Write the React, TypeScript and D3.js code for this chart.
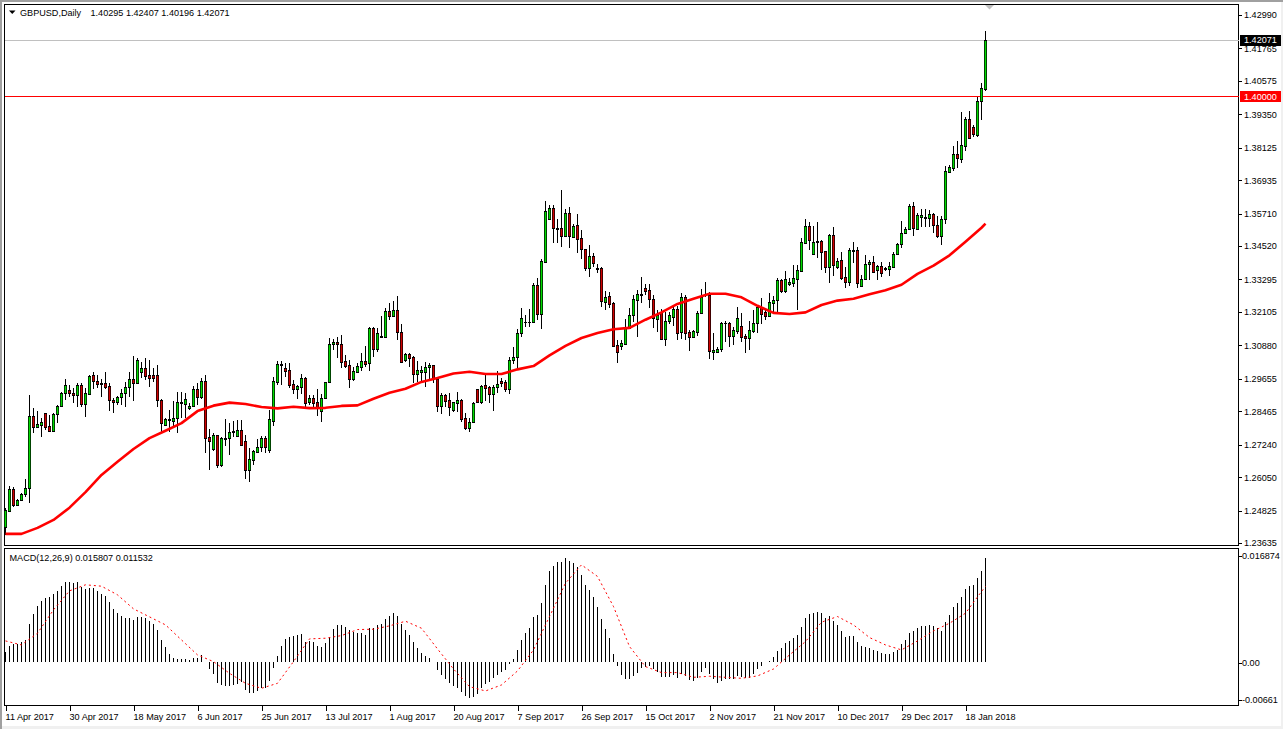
import React, { useRef, useEffect } from 'react';
import * as d3 from 'd3';

// daily bars, 11 Apr 2017 to the last bar of Jan 2018
const opens = [
  1.2421,1.2482,1.2561,1.2503,1.2522,1.2542,1.2564,1.2829,1.2790,1.2797,1.2839,1.2791,1.2775,1.2835,1.2864,1.2914,1.2923,1.2912,1.2905,1.2941,
  1.2874,1.2911,1.2981,1.2956,1.2947,1.2949,1.2938,1.2886,1.2879,1.2897,1.2912,1.2934,1.2963,1.2951,1.2990,1.3004,1.2978,1.2978,1.2978,1.2886,
  1.2797,1.2813,1.2812,1.2820,1.2875,1.2874,1.2857,1.2864,1.2927,1.2897,1.2956,1.2751,1.2707,1.2758,1.2648,1.2746,1.2747,1.2774,1.2757,1.2778,
  1.2736,1.2630,1.2669,1.2698,1.2716,1.2747,1.2704,1.2812,1.2955,1.3017,1.3004,1.2998,1.2945,1.2929,1.2936,1.2967,1.2880,1.2894,1.2879,1.2849,
  1.2894,1.2952,1.3092,1.3099,1.3092,1.3031,1.3015,1.2966,1.2992,1.3010,1.3029,1.3022,1.3150,1.3076,1.3122,1.3120,1.3213,1.3197,1.3216,1.3136,
  1.3034,1.3055,1.3044,1.2984,1.2990,1.2990,1.3010,1.3015,1.2965,1.2866,1.2905,1.2886,1.2851,1.2878,1.2886,1.2820,1.2786,1.2808,1.2927,1.2881,
  1.2941,1.2935,1.2910,1.2934,1.2956,1.2952,1.2929,1.3033,1.3044,1.3132,1.3174,1.3175,1.3175,1.3308,1.3202,1.3395,1.3553,1.3590,1.3517,1.3517,
  1.3490,1.3575,1.3484,1.3528,1.3480,1.3440,1.3373,1.3414,1.3370,1.3370,1.3248,1.3268,1.3242,1.3088,1.3087,1.3094,1.3153,1.3198,1.3255,1.3274,
  1.3298,1.3290,1.3257,1.3186,1.3210,1.3110,1.3178,1.3193,1.3221,1.3136,1.3264,1.3136,1.3120,1.3138,1.3205,1.3274,1.3272,1.3065,1.3065,1.3073,
  1.3169,1.3169,1.3123,1.3142,1.3159,1.3121,1.3116,1.3142,1.3169,1.3227,1.3209,1.3197,1.3244,1.3253,1.3326,1.3288,1.3313,1.3318,1.3332,1.3360,
  1.3465,1.3524,1.3424,1.3466,1.3469,1.3433,1.3376,1.3491,1.3375,1.3400,1.3337,1.3321,1.3435,1.3436,1.3307,1.3330,1.3385,1.3392,1.3363,1.3378,
  1.3370,1.3369,1.3375,1.3422,1.3458,1.3499,1.3513,1.3598,1.3515,1.3560,1.3557,1.3556,1.3568,1.3531,1.3489,1.3550,1.3723,1.3739,1.3789,1.3770,
  1.3819,1.3918,1.3888,1.3859,1.3983,1.40295,
];
const highs = [
  1.2490,1.2574,1.2570,1.2523,1.2548,1.2597,1.2906,1.2857,1.2848,1.2820,1.2841,1.2833,1.2841,1.2869,1.2918,1.2963,1.2942,1.2930,1.2949,1.2949,
  1.2930,1.2981,1.2989,1.2979,1.2963,1.2989,1.2951,1.2894,1.2902,1.2927,1.2955,1.2989,1.3049,1.3040,1.3026,1.3040,1.3034,1.3004,1.3016,1.2890,
  1.2823,1.2851,1.2885,1.2918,1.2918,1.2912,1.2875,1.2939,1.2949,1.2967,1.2979,1.2780,1.2768,1.2759,1.2753,1.2817,1.2804,1.2811,1.2814,1.2814,
  1.2759,1.2710,1.2704,1.2743,1.2756,1.2756,1.2851,1.2973,1.3031,1.3031,1.3022,1.3022,1.2961,1.2943,1.2982,1.2971,1.2906,1.2906,1.2927,1.2910,
  1.2955,1.3114,1.3110,1.3120,1.3126,1.3053,1.3034,1.3007,1.3022,1.3059,1.3085,1.3156,1.3156,1.3150,1.3195,1.3224,1.3242,1.3252,1.3269,1.3166,
  1.3059,1.3059,1.3049,1.3031,1.3012,1.3028,1.3022,1.3016,1.2973,1.2912,1.2910,1.2914,1.2881,1.2918,1.2890,1.2839,1.2820,1.2881,1.2927,1.2943,
  1.2982,1.2939,1.2943,1.2995,1.2970,1.2961,1.3044,1.3081,1.3147,1.3224,1.3199,1.3220,1.3315,1.3334,1.3403,1.3617,1.3602,1.3602,1.3550,1.3657,
  1.3588,1.3594,1.3533,1.3569,1.3511,1.3443,1.3456,1.3425,1.3388,1.3374,1.3287,1.3285,1.3248,1.3107,1.3107,1.3183,1.3224,1.3272,1.3291,1.3337,
  1.3312,1.3312,1.3272,1.3217,1.3220,1.3211,1.3211,1.3230,1.3232,1.3279,1.3272,1.3144,1.3144,1.3215,1.3293,1.3319,1.3285,1.3132,1.3081,1.3175,
  1.3177,1.3175,1.3156,1.3230,1.3205,1.3129,1.3178,1.3217,1.3236,1.3260,1.3217,1.3279,1.3269,1.3334,1.3330,1.3360,1.3334,1.3382,1.3382,1.3480,
  1.3551,1.3539,1.3525,1.3539,1.3474,1.3435,1.3496,1.3521,1.3407,1.3431,1.3376,1.3444,1.3466,1.3450,1.3346,1.3419,1.3401,1.3417,1.3382,1.3395,
  1.3376,1.3395,1.3429,1.3462,1.3544,1.3521,1.3605,1.3612,1.3572,1.3588,1.3588,1.3584,1.3572,1.3562,1.3562,1.3745,1.3749,1.3819,1.3837,1.3945,
  1.3924,1.3947,1.3896,1.4000,1.4048,1.42407,
];
const lows = [
  1.2393,1.2478,1.2497,1.2500,1.2518,1.2531,1.2511,1.2768,1.2784,1.2753,1.2778,1.2771,1.2774,1.2802,1.2863,1.2887,1.2897,1.2875,1.2863,1.2861,
  1.2826,1.2908,1.2927,1.2930,1.2897,1.2927,1.2848,1.2841,1.2869,1.2869,1.2863,1.2897,1.2885,1.2949,1.2967,1.2961,1.2937,1.2955,1.2863,1.2771,
  1.2792,1.2769,1.2792,1.2768,1.2820,1.2823,1.2851,1.2861,1.2869,1.2890,1.2692,1.2631,1.2701,1.2637,1.2643,1.2719,1.2686,1.2753,1.2753,1.2719,
  1.2597,1.2588,1.2649,1.2692,1.2698,1.2692,1.2692,1.2794,1.2943,1.2943,1.2973,1.2930,1.2910,1.2891,1.2910,1.2861,1.2869,1.2857,1.2830,1.2808,
  1.2890,1.2949,1.3071,1.3043,1.3004,1.3004,1.2933,1.2957,1.2985,1.2995,1.3007,1.2995,1.3046,1.3065,1.3117,1.3117,1.3181,1.3191,1.3107,1.3022,
  1.3028,1.3010,1.2949,1.2955,1.2951,1.2936,1.2963,1.2951,1.2845,1.2836,1.2861,1.2829,1.2845,1.2845,1.2808,1.2778,1.2772,1.2805,1.2875,1.2873,
  1.2885,1.2875,1.2849,1.2914,1.2936,1.2918,1.2908,1.3018,1.3001,1.3120,1.3156,1.3156,1.3169,1.3181,1.3147,1.3391,1.3552,1.3464,1.3464,1.3450,
  1.3489,1.3446,1.3480,1.3428,1.3404,1.3362,1.3340,1.3376,1.3352,1.3227,1.3217,1.3224,1.3085,1.3024,1.3071,1.3093,1.3150,1.3175,1.3120,1.3242,
  1.3272,1.3224,1.3150,1.3138,1.3107,1.3087,1.3166,1.3159,1.3107,1.3110,1.3107,1.3067,1.3114,1.3122,1.3202,1.3264,1.3038,1.3034,1.3059,1.3065,
  1.3101,1.3083,1.3089,1.3128,1.3101,1.3061,1.3071,1.3134,1.3134,1.3166,1.3181,1.3196,1.3211,1.3208,1.3281,1.3279,1.3307,1.3303,1.3217,1.3358,
  1.3462,1.3438,1.3423,1.3409,1.3364,1.3354,1.3318,1.3343,1.3369,1.3328,1.3299,1.3306,1.3391,1.3299,1.3303,1.3328,1.3328,1.3352,1.3328,1.3340,
  1.3360,1.3342,1.3372,1.3419,1.3444,1.3496,1.3511,1.3490,1.3511,1.3523,1.3521,1.3521,1.3501,1.3480,1.3456,1.3533,1.3719,1.3727,1.3739,1.3755,
  1.3802,1.3847,1.3851,1.3853,1.3914,1.40196,
];
const closes = [
  1.2484,1.2561,1.2503,1.2520,1.2542,1.2564,1.2829,1.2790,1.2800,1.2806,1.2790,1.2775,1.2835,1.2864,1.2915,1.2941,1.2912,1.2905,1.2941,1.2874,
  1.2912,1.2974,1.2956,1.2947,1.2949,1.2937,1.2886,1.2879,1.2897,1.2912,1.2935,1.2963,1.2951,1.3033,1.3004,1.2977,1.2970,1.2970,1.2886,1.2802,
  1.2817,1.2817,1.2820,1.2879,1.2879,1.2890,1.2864,1.2927,1.2900,1.2956,1.2750,1.2739,1.2758,1.2648,1.2747,1.2747,1.2769,1.2769,1.2778,1.2721,
  1.2632,1.2670,1.2699,1.2714,1.2747,1.2716,1.2817,1.2957,1.3018,1.3018,1.2995,1.2944,1.2929,1.2938,1.2967,1.2878,1.2894,1.2878,1.2857,1.2894,
  1.2952,1.3092,1.3099,1.3092,1.3028,1.3013,1.2966,1.2993,1.3012,1.3029,1.3021,1.3150,1.3076,1.3132,1.3117,1.3213,1.3197,1.3216,1.3138,1.3028,
  1.3055,1.3043,1.2984,1.2996,1.2998,1.3007,1.3015,1.2966,1.2866,1.2906,1.2885,1.2863,1.2879,1.2886,1.2819,1.2786,1.2806,1.2875,1.2880,1.2940,
  1.2931,1.2910,1.2935,1.2945,1.2951,1.2929,1.3034,1.3046,1.3132,1.3187,1.3175,1.3174,1.3308,1.3202,1.3396,1.3582,1.3590,1.3517,1.3516,1.3490,
  1.3575,1.3490,1.3524,1.3479,1.3440,1.3373,1.3414,1.3391,1.3369,1.3249,1.3264,1.3241,1.3087,1.3065,1.3095,1.3153,1.3198,1.3258,1.3275,1.3275,
  1.3288,1.3257,1.3187,1.3199,1.3110,1.3178,1.3198,1.3220,1.3134,1.3264,1.3134,1.3120,1.3139,1.3205,1.3266,1.3276,1.3066,1.3070,1.3074,1.3169,
  1.3171,1.3123,1.3144,1.3187,1.3120,1.3116,1.3144,1.3169,1.3228,1.3204,1.3197,1.3246,1.3253,1.3326,1.3288,1.3330,1.3319,1.3334,1.3363,1.3466,
  1.3524,1.3474,1.3466,1.3469,1.3431,1.3376,1.3491,1.3381,1.3396,1.3336,1.3321,1.3436,1.3436,1.3318,1.3330,1.3385,1.3392,1.3358,1.3378,1.3354,
  1.3367,1.3378,1.3422,1.3458,1.3499,1.3513,1.3599,1.3519,1.3566,1.3565,1.3555,1.3570,1.3530,1.3489,1.3550,1.3727,1.3741,1.3788,1.3776,1.3821,
  1.3919,1.3849,1.3864,1.3983,1.4030,1.42071,
];

// moving average, read every 4th bar (plus the last one)
const maEvery = 4;
const maValues = [
  1.2397,1.2397,1.2419,1.2448,1.2493,1.2550,1.2613,1.2661,1.2708,1.2748,1.2775,1.2803,1.2847,1.2867,1.2878,1.2873,
  1.2862,1.2857,1.2863,1.2858,1.2859,1.2866,1.2868,1.2892,1.2914,1.2929,1.2954,1.2968,1.2985,1.2991,1.2983,1.2983,
  1.3000,1.3012,1.3051,1.3086,1.3115,1.3133,1.3147,1.3152,1.3182,1.3209,1.3240,1.3259,1.3277,1.3277,1.3264,1.3233,
  1.3207,1.3203,1.3209,1.3236,1.3252,1.3259,1.3275,1.3290,1.3310,1.3350,1.3380,1.3418,1.3468,1.3519,1.3534,
];

// MACD histogram and signal, in 1e-5 units
const macdHist = [
  152,249,274,279,305,340,584,732,859,935,980,996,1036,1087,1158,1219,1224,1209,1224,1153,
  1118,1128,1123,1087,1041,1001,914,818,752,706,681,676,645,686,696,671,625,589,488,340,
  234,127,66,51,51,51,36,71,71,112,2,-102,-178,-320,-345,-361,-356,-345,-335,-295,
  -422,-462,-467,-437,-386,-386,-284,-81,97,249,356,386,406,417,432,315,325,305,254,239,
  290,386,503,569,569,544,493,457,447,442,417,518,518,569,579,660,706,752,711,584,
  493,417,315,224,147,102,71,2,-117,-193,-254,-315,-361,-386,-447,-508,-538,-523,-488,-396,
  -330,-295,-244,-193,-142,-117,-25,51,188,340,442,523,691,721,899,1179,1392,1468,1524,1524,
  1585,1544,1509,1443,1331,1179,1102,986,848,660,508,376,132,-51,-193,-254,-254,-208,-163,-91,
  -66,-51,-102,-142,-224,-224,-218,-193,-244,-183,-208,-269,-284,-244,-152,-81,-183,-254,-310,-279,
  -259,-254,-254,-203,-218,-234,-244,-183,-107,-56,10,20,86,173,224,300,325,376,417,538,
  681,737,757,767,752,671,711,630,569,478,386,401,401,310,249,234,218,193,178,147,
  132,132,163,188,279,340,447,478,528,554,554,564,554,518,478,615,721,843,904,996,
  1118,1163,1179,1280,1392,1581,
];
const macdSignal = [
  325,264,442,798,1087,1179,1158,1026,813,691,569,340,112,10,-168,-320,
  -396,-320,10,356,366,406,498,503,554,625,518,203,-102,-371,-437,-345,
  -132,188,696,1204,1483,1306,848,239,-66,-157,-157,-229,-213,-229,-244,-208,
  -102,112,315,610,696,569,376,264,188,325,478,594,747,1077,1153,
];

const priceTicks = [1.4299,1.41765,1.40575,1.3935,1.38125,1.36935,1.3571,1.3452,1.33295,1.32105,1.3088,1.29655,1.28465,1.2724,1.2605,1.24825,1.23635];
const macdTicks = [0.016874, 0, -0.00661];
const macdTickLabels = ['0.016874', '0.00', '-0.00661'];
const dateLabels = ['11 Apr 2017','30 Apr 2017','18 May 2017','6 Jun 2017','25 Jun 2017','13 Jul 2017','1 Aug 2017','20 Aug 2017','7 Sep 2017','26 Sep 2017','15 Oct 2017','2 Nov 2017','21 Nov 2017','10 Dec 2017','29 Dec 2017','18 Jan 2018'];
const dateEvery = 16;

const lastPrice = 1.42071;
const levelPrice = 1.4;
const font = '"Liberation Sans", sans-serif';
const fontSize = 9.1;

const App: React.FC = () => {
  const svgRef = useRef<SVGSVGElement>(null);

  useEffect(() => {
    const svg = d3.select(svgRef.current);
    svg.selectAll('*').remove();

    const width = 1283;
    const height = 729;
    const left = 4.5;
    const right = 1238.5;
    const priceTop = 4.5;
    const priceBottom = 545.5;
    const macdTop = 548.5;
    const macdBottom = 705.5;

    // Escalas
    const x = d3.scaleLinear().domain([0, opens.length - 1]).range([5.5, 985.5]);
    const y = d3.scaleLinear().domain([1.23635, 1.4299]).range([543, 15]);
    const yMacd = d3.scaleLinear().domain([-0.00661, 0.016874]).range([705.7, 551.4]);
    // the terminal squeezes the end labels of the MACD axis inwards
    const yMacdAxis = d3.scaleLinear().domain([-0.00661, 0, 0.016874]).range([699.5, 662.5, 556]);

    // window chrome
    svg.append('rect').attr('width', width).attr('height', height).attr('fill', '#f0f0f0');
    svg.append('rect').attr('x', 0).attr('y', 0).attr('width', width).attr('height', 2).attr('fill', '#a0a0a0');
    svg.append('rect').attr('x', 0).attr('y', 0).attr('width', 2).attr('height', height).attr('fill', '#a0a0a0');
    svg.append('rect').attr('x', 2).attr('y', 2).attr('width', 1279).attr('height', 724).attr('fill', '#fff');

    const frame = svg.append('g').attr('fill', 'none').attr('stroke', '#000').attr('shape-rendering', 'crispEdges');
    frame.append('rect').attr('x', left).attr('y', priceTop).attr('width', right - left).attr('height', priceBottom - priceTop);
    frame.append('rect').attr('x', left).attr('y', macdTop).attr('width', right - left).attr('height', macdBottom - macdTop);

    // level lines sit under the candles
    svg.append('line').attr('x1', left).attr('x2', right).attr('y1', y(lastPrice)).attr('y2', y(lastPrice))
      .attr('stroke', '#c0c0c0').attr('shape-rendering', 'crispEdges');
    svg.append('line').attr('x1', left).attr('x2', right).attr('y1', y(levelPrice)).attr('y2', y(levelPrice))
      .attr('stroke', '#ff0000').attr('shape-rendering', 'crispEdges');

    // Velas
    const candles = svg.append('g');
    opens.forEach((open, i) => {
      const close = closes[i];
      const px = Math.floor(x(i));
      const top = Math.round(y(Math.max(open, close)));
      const bottom = Math.round(y(Math.min(open, close)));
      candles.append('rect').attr('x', px).attr('y', y(highs[i])).attr('width', 1)
        .attr('height', y(lows[i]) - y(highs[i])).attr('fill', '#000').attr('shape-rendering', 'crispEdges');
      candles.append('rect').attr('x', px - 1).attr('y', top).attr('width', 3)
        .attr('height', Math.max(bottom - top, 0) + 1).attr('fill', '#000').attr('shape-rendering', 'crispEdges');
      if (bottom - top > 1) {
        // a bit wider than a pixel, the reference is resampled
        candles.append('rect').attr('x', px - 0.3).attr('y', top + 1).attr('width', 1.6)
          .attr('height', bottom - top - 1).attr('fill', close >= open ? '#00dc00' : '#d00000');
      }
    });

    // Media movil
    const maX = (k: number) => Math.min(k * maEvery, opens.length - 1);
    const maLine = d3.line<number>().x((_, k) => x(maX(k))).y(d => y(d));
    svg.append('path').attr('d', maLine(maValues)).attr('fill', 'none')
      .attr('stroke', '#ff0000').attr('stroke-width', 2.6).attr('stroke-linejoin', 'round');

    // MACD
    const bars = svg.append('g').attr('shape-rendering', 'crispEdges');
    macdHist.forEach((v, i) => {
      const value = v / 1e5;
      const y0 = yMacd(Math.max(value, 0));
      const y1 = yMacd(Math.min(value, 0));
      bars.append('rect').attr('x', Math.floor(x(i))).attr('y', y0).attr('width', 1)
        .attr('height', y1 - y0).attr('fill', '#000');
    });
    const signalLine = d3.line<number>().x((_, k) => x(maX(k))).y(d => yMacd(d / 1e5));
    svg.append('path').attr('d', signalLine(macdSignal)).attr('fill', 'none')
      .attr('stroke', '#ff0000').attr('stroke-width', 1).attr('stroke-dasharray', '2,3');

    // Ejes
    const styleAxis = (g: any) => {
      g.select('.domain').remove();
      g.selectAll('text').attr('font-family', font).attr('font-size', fontSize).attr('fill', '#000');
      g.selectAll('line').attr('stroke', '#000').attr('shape-rendering', 'crispEdges');
    };

    svg.append('g').attr('transform', `translate(${right},0)`)
      .call(d3.axisRight(y).tickValues(priceTicks).tickFormat(d => (d as number).toFixed(5)).tickSize(3).tickPadding(2.5))
      .call(styleAxis);

    svg.append('g').attr('transform', `translate(${right},0)`)
      .call(d3.axisRight(yMacdAxis).tickValues(macdTicks).tickFormat((_, i) => macdTickLabels[i]).tickSize(3).tickPadding(0.5))
      .call(styleAxis);

    const dateTicks = dateLabels.map((_, i) => i * dateEvery);
    const timeAxis = svg.append('g').attr('transform', `translate(0,${macdBottom})`)
      .call(d3.axisBottom(x).tickValues(dateTicks).tickFormat((_, i) => dateLabels[i]).tickSize(5).tickPadding(3));
    styleAxis(timeAxis);
    timeAxis.selectAll('text').attr('text-anchor', 'start').attr('dx', -0.5);

    // price tags
    const tags = [
      { value: lastPrice, fill: '#000', text: '#fff' },
      { value: levelPrice, fill: '#ff0000', text: '#fff' },
    ];
    tags.forEach(t => {
      svg.append('rect').attr('x', 1240).attr('y', y(t.value) - 5.5).attr('width', 41).attr('height', 11)
        .attr('fill', t.fill).attr('shape-rendering', 'crispEdges');
      svg.append('text').attr('x', 1244).attr('y', y(t.value) + 3.2).attr('fill', t.text)
        .attr('font-family', font).attr('font-size', fontSize).text(t.value.toFixed(5));
    });

    // marker above the last bar
    const marker = d3.path();
    marker.moveTo(985, 5);
    marker.lineTo(994, 5);
    marker.lineTo(989.5, 9.5);
    marker.closePath();
    svg.append('path').attr('d', marker.toString()).attr('fill', '#c0c0c0');

    // Titulos
    const symbolArrow = d3.path();
    symbolArrow.moveTo(9, 10.5);
    symbolArrow.lineTo(15.5, 10.5);
    symbolArrow.lineTo(12.25, 14);
    symbolArrow.closePath();
    svg.append('path').attr('d', symbolArrow.toString()).attr('fill', '#000');

    const label = (tx: number, ty: number, text: string) =>
      svg.append('text').attr('x', tx).attr('y', ty).attr('font-family', font)
        .attr('font-size', fontSize).attr('fill', '#000').text(text);
    label(20, 16, 'GBPUSD,Daily');
    label(90.5, 16, '1.40295 1.42407 1.40196 1.42071');
    label(9.5, 560.5, 'MACD(12,26,9) 0.015807 0.011532');
  }, []);

  return (
    <svg ref={svgRef} width={1283} height={729} style={{ position: 'absolute', left: 0, top: 0, display: 'block' }} />
  );
};

export default App;
